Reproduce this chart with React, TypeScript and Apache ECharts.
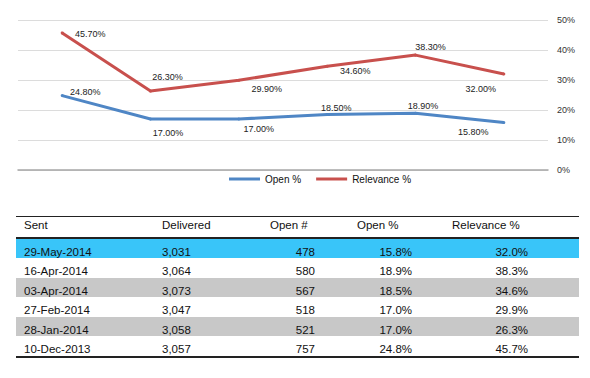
import React, { useEffect, useRef } from "react";
import * as echarts from "echarts";

// Data (table order: newest first)
const sentDates = ["29-May-2014", "16-Apr-2014", "03-Apr-2014", "27-Feb-2014", "28-Jan-2014", "10-Dec-2013"];
const delivered = ["3,031", "3,064", "3,073", "3,047", "3,058", "3,057"];
const openCount = ["478", "580", "567", "518", "521", "757"];
const openPct = [15.8, 18.9, 18.5, 17.0, 17.0, 24.8];
const relevancePct = [32.0, 38.3, 34.6, 29.9, 26.3, 45.7];
const yTicks = [0, 10, 20, 30, 40, 50];
const headers = ["Sent", "Delivered", "Open #", "Open %", "Relevance %"];

// Label placement (styling, chronological order)
const openLabelOffsets = [[23, -4], [17.5, 13.5], [20, 10], [9, -7], [7.5, -7.5], [-30.5, 9]];
const relLabelOffsets = [[28, 1], [17, -14.5], [28, 9], [28, 4.5], [15, -8], [-23, 15]];

const FONT = '"Liberation Sans", Arial, Helvetica, sans-serif';
const BLUE = "#4f86c5";
const RED = "#c8504d";

function Chart() {
  const ref = useRef<HTMLDivElement>(null);
  useEffect(() => {
    if (!ref.current) return;
    const chart = echarts.init(ref.current, undefined, { renderer: "svg" });
    const cats = [...sentDates].reverse();
    const openChrono = [...openPct].reverse();
    const relChrono = [...relevancePct].reverse();
    const mk = (vals: number[], offs: number[][]) =>
      vals.map((v, i) => ({
        value: v,
        label: { offset: offs[i] },
      }));
    const labelBase = {
      show: true,
      position: "inside",
      fontSize: 9,
      fontFamily: FONT,
      color: "#222",
      formatter: (p: any) => Number(p.value).toFixed(2) + "%",
    };
    chart.setOption({
      animation: false,
      textStyle: { fontFamily: FONT },
      grid: { left: 18, right: 42, top: 20, bottom: 20 },
      legend: {
        left: 224,
        top: 169,
        itemWidth: 31,
        itemHeight: 3,
        itemGap: 15,
        textStyle: { fontSize: 10, color: "#111", fontFamily: FONT },
        data: [
          { name: "Open %", icon: "rect" },
          { name: "Relevance %", icon: "rect" },
        ],
      },
      xAxis: {
        type: "category",
        data: cats,
        boundaryGap: true,
        axisLabel: { show: false },
        axisTick: { show: false },
        axisLine: { lineStyle: { color: "#a6a6a6", width: 1.5 } },
      },
      yAxis: {
        type: "value",
        position: "right",
        min: yTicks[0],
        max: yTicks[yTicks.length - 1],
        interval: 10,
        axisLine: { show: false },
        axisTick: { show: false },
        axisLabel: {
          formatter: "{value}%",
          fontSize: 9,
          color: "#333",
          margin: 9,
          align: "left",
          fontFamily: FONT,
        },
        splitLine: { lineStyle: { color: "#dcdcdc", width: 1 } },
      },
      series: [
        {
          name: "Open %",
          type: "line",
          data: mk(openChrono, openLabelOffsets),
          symbol: "circle",
          symbolSize: 3,
          lineStyle: { color: BLUE, width: 3 },
          itemStyle: { color: BLUE },
          label: labelBase,
        },
        {
          name: "Relevance %",
          type: "line",
          data: mk(relChrono, relLabelOffsets),
          symbol: "circle",
          symbolSize: 3,
          lineStyle: { color: RED, width: 3 },
          itemStyle: { color: RED },
          label: labelBase,
        },
      ],
    });
    return () => chart.dispose();
  }, []);
  return <div ref={ref} style={{ position: "absolute", left: 0, top: 0, width: 590, height: 190 }} />;
}

// Table layout
const colDefs = [
  { headerLeft: 24, align: "left", x: 24 },
  { headerLeft: 162, align: "left", x: 162 },
  { headerLeft: 270, align: "right", x: 315 },
  { headerLeft: 357, align: "right", x: 412 },
  { headerLeft: 452, align: "right", x: 528 },
];
const rowBgs = ["#39c5f9", "#ffffff", "#c8c8c8", "#ffffff", "#c8c8c8", "#ffffff"];
const TABLE_LEFT = 16;
const TABLE_RIGHT = 579;
const ROW_TOP = 238.5;
const ROW_H = 19.55;

function Cell({ text, cx, cy, align }: { text: string; cx: number; cy: number; align: string }) {
  const lh = 14;
  const style: React.CSSProperties = {
    position: "absolute",
    top: cy - lh / 2,
    height: lh,
    lineHeight: lh + "px",
    fontSize: 11.5,
    fontFamily: FONT,
    color: "#111",
    whiteSpace: "nowrap",
  };
  if (align === "left") style.left = cx;
  else style.right = 590 - cx;
  return <div style={style}>{text}</div>;
}

function Table() {
  const rows = sentDates.map((d, i) => [
    d,
    delivered[i],
    openCount[i],
    openPct[i].toFixed(1) + "%",
    relevancePct[i].toFixed(1) + "%",
  ]);
  const w = TABLE_RIGHT - TABLE_LEFT;
  return (
    <>
      {rows.map((_, i) => (
        <div
          key={"bg" + i}
          style={{
            position: "absolute",
            left: TABLE_LEFT,
            width: w,
            top: ROW_TOP + i * ROW_H,
            height: ROW_H,
            background: rowBgs[i],
          }}
        />
      ))}
      <div style={{ position: "absolute", left: TABLE_LEFT, width: w, top: 215.5, height: 1.5, background: "#222" }} />
      <div style={{ position: "absolute", left: TABLE_LEFT, width: w, top: 236.5, height: 2, background: "#222" }} />
      <div style={{ position: "absolute", left: TABLE_LEFT, width: w, top: ROW_TOP + 6 * ROW_H, height: 2, background: "#222" }} />
      {headers.map((h, j) => (
        <Cell key={"h" + j} text={h} cx={colDefs[j].headerLeft} cy={224.5} align="left" />
      ))}
      {rows.map((r, i) =>
        r.map((t, j) => (
          <Cell
            key={"c" + i + "-" + j}
            text={t}
            cx={colDefs[j].x}
            cy={ROW_TOP + i * ROW_H + 13}
            align={colDefs[j].align}
          />
        ))
      )}
    </>
  );
}

export default function App() {
  useEffect(() => {
    document.body.style.margin = "0";
  }, []);
  return (
    <div style={{ position: "absolute", left: 0, top: 0, width: 590, height: 378, background: "#fff", overflow: "hidden" }}>
      <Chart />
      <Table />
    </div>
  );
}
